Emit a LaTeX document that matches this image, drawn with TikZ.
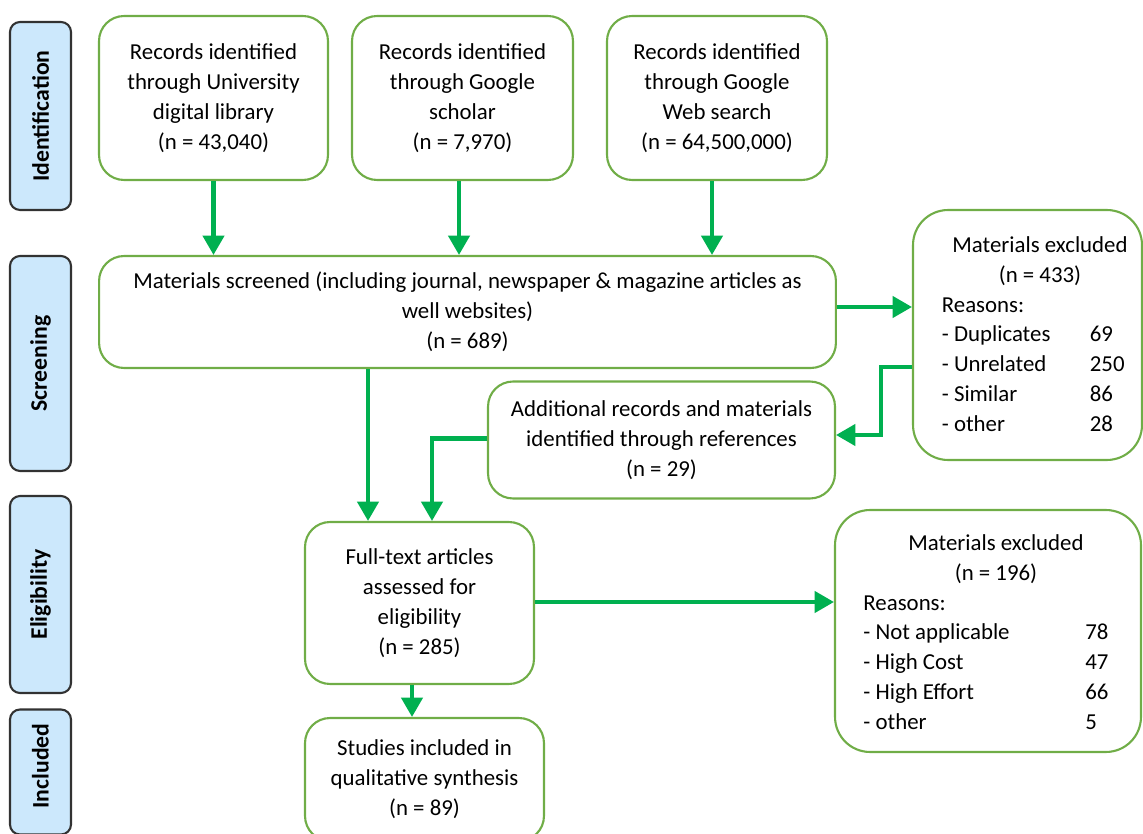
\documentclass[tikz,border=0pt]{standalone}
\usepackage{fontspec}
\setmainfont{Carlito}
\usetikzlibrary{arrows.meta,calc}
\definecolor{boxgreen}{RGB}{112,173,71}
\definecolor{arrgreen}{RGB}{0,176,80}
\definecolor{sideblue}{RGB}{204,232,252}
\definecolor{sideedge}{RGB}{50,50,50}
\tikzset{
  box/.style={draw=boxgreen, line width=1.2pt, rounded corners=0.5cm, align=center,
    font=\fontsize{13}{17}\selectfont, inner sep=0pt},
  exbox/.style={box, rounded corners=0.7cm},
  plain/.style={inner sep=0pt, font=\fontsize{13}{17}\selectfont},
  side/.style={draw=sideedge, fill=sideblue, line width=1.2pt, rounded corners=0.2cm,
    minimum width=1.22cm, inner sep=0pt},
  sidetext/.style={rotate=90, font=\fontsize{13.5}{16}\selectfont\bfseries, inner sep=0pt},
  arr/.style={draw=arrgreen, line width=2.3pt, -{Triangle[length=11pt,width=12pt]}}
}
\begin{document}
\begin{tikzpicture}[x=0.02cm, y=-0.02cm]
\useasboundingbox (0,0) rectangle (1143,834);
% side labels
\node[side, minimum height=3.76cm] (sid) at (40.5,116) {};
\node[sidetext] (sidt) at (sid.center) {Identification};
\node[side, minimum height=4.3cm] (sscr) at (40.5,363.5) {};
\node[sidetext] (sscrt) at (sscr.center) {Screening};
\node[side, minimum height=3.94cm] (selg) at (40.5,594.5) {};
\node[sidetext] (selgt) at (selg.center) {Eligibility};
\node[side, minimum height=2.5cm] (sinc) at (40.5,772) {};
\node[sidetext] (sinct) at (40.5,766) {Included};
% top boxes
\node[box, minimum width=4.58cm, minimum height=3.28cm] (b1) at (213.5,98)
  {Records identified\\through University\\digital library\\(n = 43,040)};
\node[box, minimum width=4.42cm, minimum height=3.28cm] (b2) at (462.5,98)
  {Records identified\\through Google\\scholar\\(n = 7,970)};
\node[box, minimum width=4.40cm, minimum height=3.28cm] (b3) at (717,98)
  {Records identified\\through Google\\Web search\\(n = 64,500,000)};
% screening
\node[box, minimum width=14.74cm, minimum height=2.24cm] (scr) at (467.5,312)
  {Materials screened (including journal, newspaper \& magazine articles as\\well websites)\\(n = 689)};
% excluded 1
\node[exbox, minimum width=4.58cm, minimum height=5.0cm] (ex1) at (1027.5,335) {};
\node[plain] (ex1t) at (1040,336) {%
  \begin{tabular}{@{}p{2.96cm}@{}l@{}}
  \multicolumn{2}{c}{Materials excluded}\\
  \multicolumn{2}{c}{(n = 433)}\\
  Reasons: & \\
  - Duplicates & 69\\
  - Unrelated & 250\\
  - Similar & 86\\
  - other & 28
  \end{tabular}};
% additional
\node[box, minimum width=6.94cm, minimum height=2.34cm] (add) at (661.5,440)
  {Additional records and materials\\identified through references\\(n = 29)};
% full text
\node[box, minimum width=4.58cm, minimum height=3.24cm] (full) at (419.5,603)
  {Full-text articles\\assessed for\\eligibility\\(n = 285)};
% excluded 2
\node[exbox, minimum width=6.12cm, minimum height=4.84cm] (ex2) at (988,631) {};
\node[plain] (ex2t) at (986,634) {%
  \begin{tabular}{@{}p{4.44cm}@{}l@{}}
  \multicolumn{2}{c}{\hspace{0.4cm}Materials excluded}\\
  \multicolumn{2}{c}{\hspace{0.4cm}(n = 196)}\\
  Reasons: & \\
  - Not applicable & 78\\
  - High Cost & 47\\
  - High Effort & 66\\
  - other & 5
  \end{tabular}};
% studies
\node[box, minimum width=4.78cm, minimum height=2.46cm] (stu) at (424.5,779.5)
  {Studies included in\\qualitative synthesis\\(n = 89)};
% arrows
\draw[arr] (b1.south) -- (b1.south |- scr.north);
\draw[arr] ([xshift=-0.07cm]b2.south) -- ([xshift=-0.07cm]b2.south |- scr.north);
\draw[arr] ([xshift=-0.1cm]b3.south) -- ([xshift=-0.1cm]b3.south |- scr.north);
\draw[arr] ([yshift=0.1cm]scr.east) -- ([yshift=0.1cm]scr.east -| ex1.west);
\draw[arr] ([yshift=-0.64cm]ex1.west) -- ++(-31,0) |- ([yshift=0.1cm]add.east);
\draw[arr] ([yshift=0.03cm]add.west) -| ([xshift=0.25cm]full.north);
\draw[arr] ([xshift=-1.03cm]full.north |- scr.south) -- ([xshift=-1.03cm]full.north);
\draw[arr] ([yshift=0.02cm]full.east) -- ([yshift=0.02cm]full.east -| ex2.west);
\draw[arr] ([xshift=-0.15cm]full.south) -- ([xshift=-0.15cm]full.south |- stu.north);
\end{tikzpicture}
\end{document}
